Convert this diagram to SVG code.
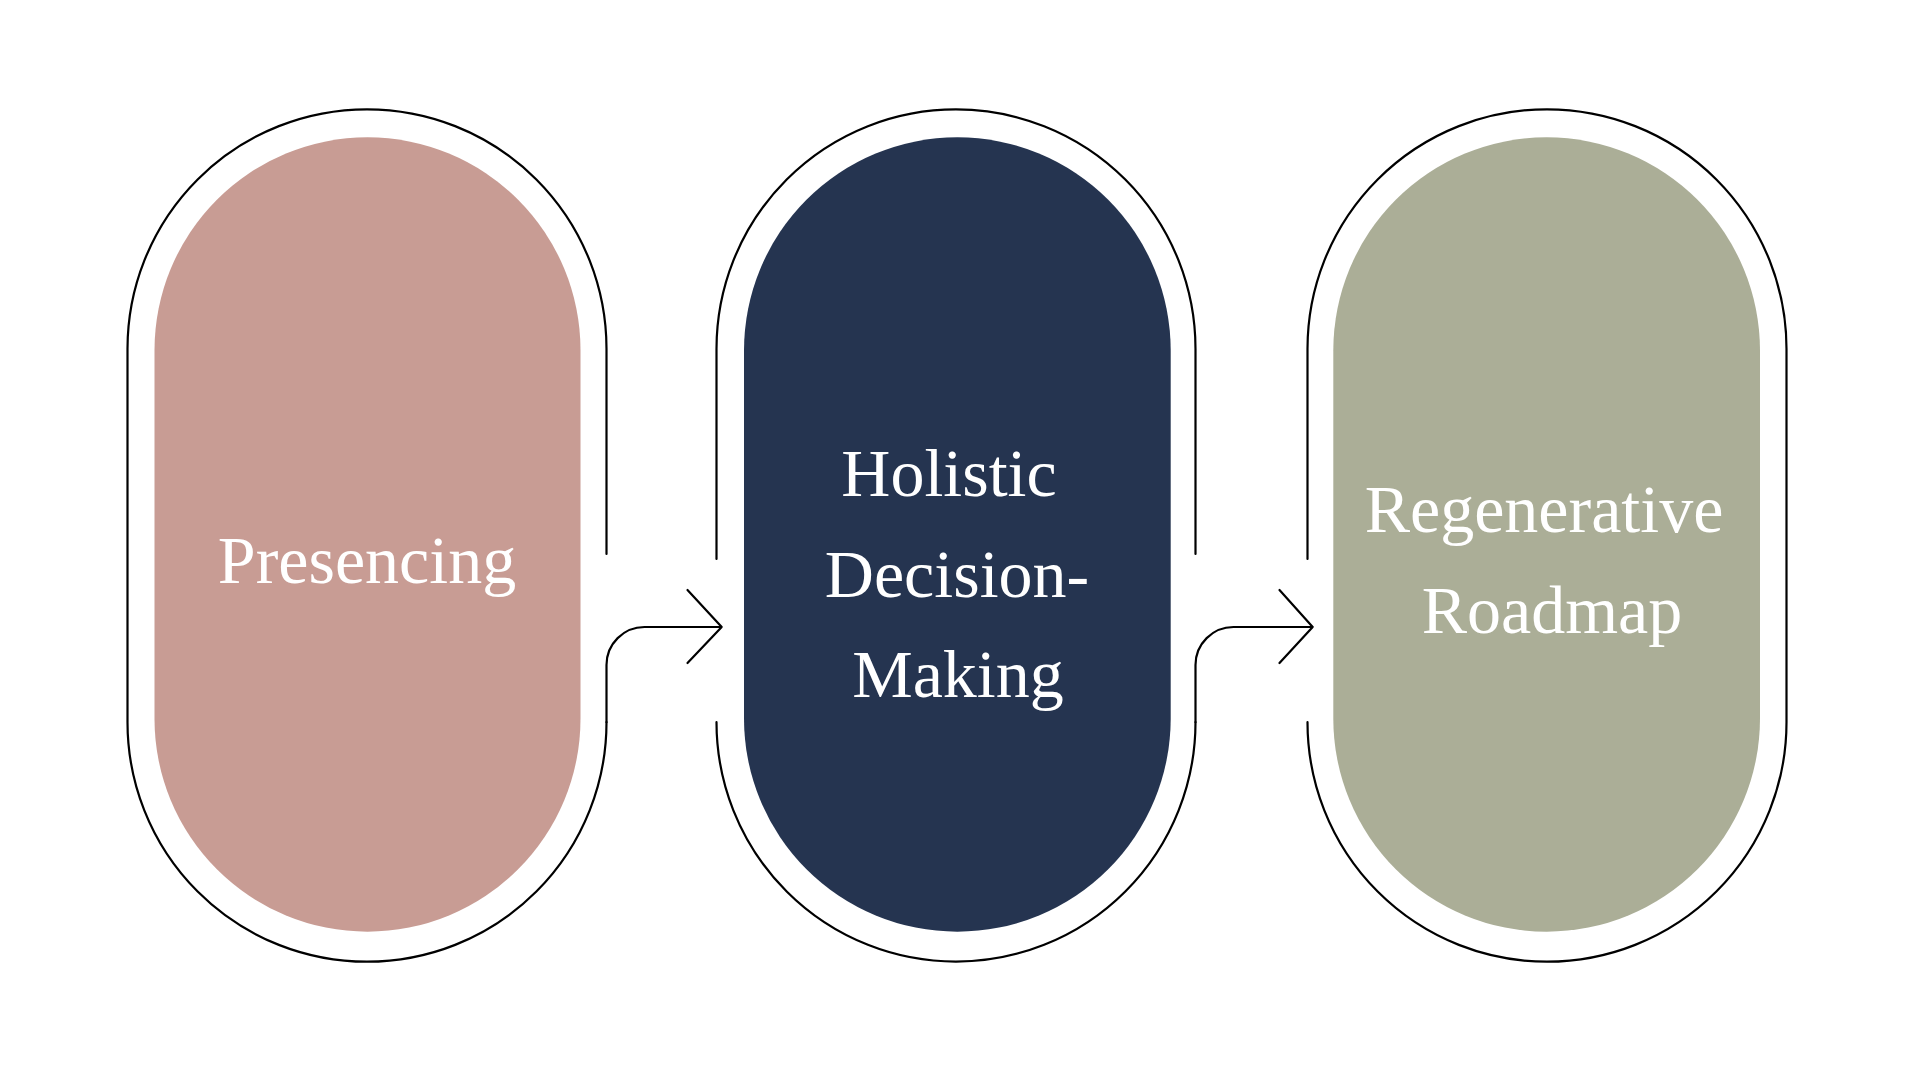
<svg xmlns="http://www.w3.org/2000/svg" width="1920" height="1080" viewBox="0 0 1920 1080">
<style>
.line{fill:none;stroke:#000;stroke-width:2.2;stroke-linecap:round;stroke-linejoin:round}
.lbl{font-family:"Liberation Serif","Times New Roman",serif;font-size:68px;fill:#fff;text-anchor:middle}
</style>
<rect width="1920" height="1080" fill="#fff"/>
<g id="node-presencing">
<rect x="154.5" y="137.3" width="426" height="794.4" rx="213" ry="213" fill="#C89C94"/>
<path class="line" d="M606.5,554 V348.8 A239.5,239.5 0 0 0 127.5,348.8 V722.2 A239.5,239.5 0 0 0 606.5,722.2"/>
<text class="lbl" x="367" y="583">Presencing</text>
</g>
<g id="node-holistic">
<rect x="744" y="137.3" width="426.7" height="794.4" rx="213.3" ry="213.3" fill="#253450"/>
<path class="line" d="M716.5,559 V348.8 A239.5,239.5 0 0 1 1195.5,348.8 V554 M1195.5,722.2 A239.5,239.5 0 0 1 716.5,722.2"/>
<text class="lbl"><tspan x="949" y="496">Holistic</tspan><tspan x="957" y="597">Decision-</tspan><tspan x="958" y="697">Making</tspan></text>
</g>
<g id="node-regenerative">
<rect x="1333.3" y="137.3" width="426.7" height="794.4" rx="213.3" ry="213.3" fill="#ABAE97"/>
<path class="line" d="M1307.5,559 V348.8 A239.5,239.5 0 0 1 1786.5,348.8 V722.2 A239.5,239.5 0 0 1 1307.5,722.2"/>
<text class="lbl"><tspan x="1544" y="532">Regenerative</tspan><tspan x="1552" y="633">Roadmap</tspan></text>
</g>
<g id="connectors">
<path class="line" d="M606.5,722.2 V665 A38,38 0 0 1 644.5,627 H721.7 M687.5,590 L721.7,627 L687.5,663"/>
<path class="line" d="M1195.5,722.2 V665 A38,38 0 0 1 1233.5,627 H1312.7 M1279.5,590 L1312.7,627 L1279.5,663"/>
</g>
</svg>
